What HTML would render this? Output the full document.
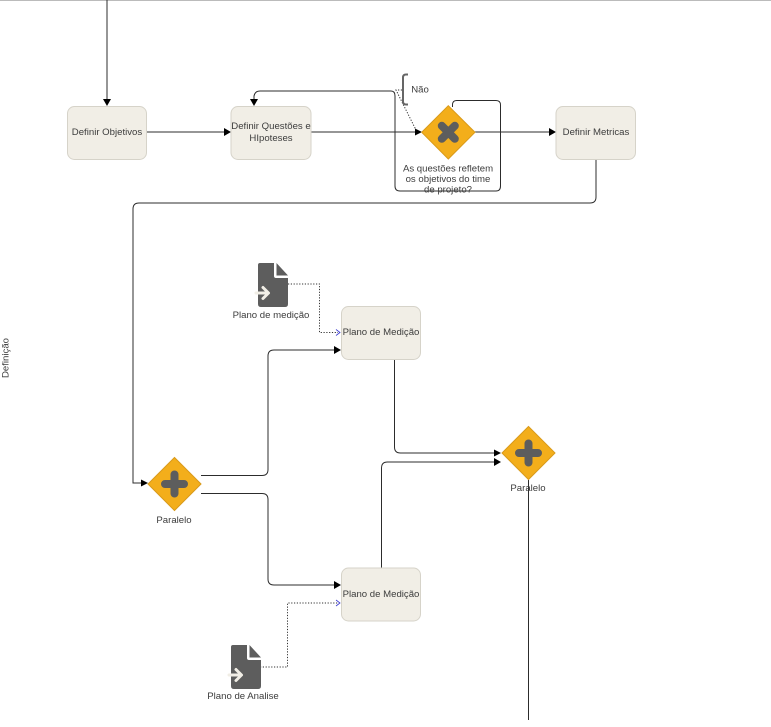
<!DOCTYPE html>
<html>
<head>
<meta charset="utf-8">
<style>
html,body{margin:0;padding:0;background:#fff;width:771px;height:727px;overflow:hidden}
svg{display:block}
text{font-family:"Liberation Sans",sans-serif;font-size:9.6px;fill:#3c3c3c;text-anchor:middle}
.box{fill:#f1eee6;stroke:#d6d3c9;stroke-width:1}
.l{fill:none;stroke:#2c2c2c;stroke-width:1}
.d{fill:none;stroke:#333;stroke-width:1;stroke-dasharray:1.2 1.6}
.gw{fill:#f3ae1b;stroke:#d99a1a;stroke-width:1}
.sym{fill:none;stroke:#5d5d5d;stroke-width:8;stroke-linecap:round}
.ah{fill:#000}
.oa{fill:none;stroke:#3a3ad0;stroke-width:.8}
</style>
</head>
<body>
<svg width="771" height="727" viewBox="0 0 771 727" xmlns="http://www.w3.org/2000/svg">
<line x1="0" y1="0.5" x2="771" y2="0.5" stroke="#bbb"/>
<text transform="translate(8.500,358) rotate(-90)">Definição</text>

<!-- connectors -->
<path class="l" d="M107 0V100"/>
<path class="ah" d="M103 99h8l-4 7z"/>
<path class="l" d="M147 132H225"/>
<path class="ah" d="M224 128v8l7-4z"/>
<path class="l" d="M311 132H416"/>
<path class="ah" d="M415 128.500v7l7-3.500z"/>
<path class="l" d="M475 132H550"/>
<path class="ah" d="M549 128v8l7-4z"/>
<path class="l" d="M452.500 107V105q0-4.500 4-4.500H496q4.500 0 4.500 4.500V186q0 5-4.500 5H400q-5 0-5-5V96q0-5-4-5H260q-5 0-6 5v4"/>
<path class="ah" d="M250 99h8l-4 7z"/>
<path class="l" d="M596 159V197q0 6-6 6H139q-6 0-6 6V483H142"/>
<path class="ah" d="M141 479.500v7l7-3.500z"/>
<path class="l" d="M201 475.500H262q6 0 6-6V356q0-6 6-6H335"/>
<path class="ah" d="M334 346v8l7-4z"/>
<path class="l" d="M201 493.500H262q6 0 6 6V579q0 6 6 6H335"/>
<path class="ah" d="M334 581v8l7-4z"/>
<path class="l" d="M394.500 359V447q0 6 6 6H495"/>
<path class="ah" d="M494 449.500v7l7-3.500z"/>
<path class="l" d="M381.500 568V468q0-6 6-6H495"/>
<path class="ah" d="M494 458v8l7-4z"/>
<path class="l" d="M528.500 480V720"/>

<!-- dotted -->
<path class="d" d="M288 284H319.500V332.500H338"/>
<path class="oa" d="M336 329.500l4 3-4 3"/>
<path class="d" d="M260 667H287.500V603H338"/>
<path class="oa" d="M336 600l4 3-4 3"/>
<path class="d" d="M402 90H396L416 130"/>

<!-- annotation bracket -->
<path fill="none" stroke="#666" stroke-width="2" d="M408 74.500h-2q-3 0-3 3v24q0 3 3 3h2"/>
<text x="420" y="92.500">Não</text>

<!-- tasks -->
<rect class="box" x="67.500" y="106.500" width="79" height="53" rx="7"/>
<text x="107" y="135">Definir Objetivos</text>
<rect class="box" x="231" y="106.500" width="80" height="53" rx="7"/>
<text x="271" y="129">Definir Questões e</text>
<text x="271" y="141">HIpoteses</text>
<rect class="box" x="556" y="106.500" width="79.500" height="53" rx="7"/>
<text x="596" y="135">Definir Metricas</text>
<rect class="box" x="341.500" y="306.500" width="79" height="53" rx="7"/>
<text x="381" y="335">Plano de Medição</text>
<rect class="box" x="341.500" y="568" width="79" height="53" rx="7"/>
<text x="381" y="597">Plano de Medição</text>

<!-- gateways -->
<path class="gw" d="M448.300 105.700L475 132.300L448.300 159L421.700 132.300Z"/>
<path class="sym" d="M441.800 125.800L454.800 138.800M454.800 125.800L441.800 138.800"/>
<path class="gw" d="M174.500 457.500L201 484L174.500 510.500L148 484Z"/>
<path class="sym" d="M174.500 474.500V493.500M165 484H184"/>
<path class="gw" d="M528.500 426.500L555 453L528.500 479.500L502 453Z"/>
<path class="sym" d="M528.500 443.500V462.500M519 453H538"/>

<text x="448" y="171.500">As questões refletem</text>
<text x="448" y="182">os objetivos do time</text>
<text x="448" y="192.500">de projeto?</text>
<text x="174" y="523">Paralelo</text>
<text x="528" y="491">Paralelo</text>

<!-- data objects -->
<path fill="#5d5d5d" d="M260 263H274V276q0 2 2 2H288V304q0 3-3 3H261q-3 0-3-3V265q0-2 2-2Z"/>
<path fill="#5d5d5d" d="M276.500 263L288 275.500H276.500Z"/>
<path fill="none" stroke="#f1eee6" stroke-width="3" stroke-linecap="round" stroke-linejoin="round" d="M256 293H268M263 287.500L268.500 293L263 298.500"/>
<text x="271" y="318">Plano de medição</text>

<path fill="#5d5d5d" d="M233 645H247V658q0 2 2 2H261V686q0 3-3 3H234q-3 0-3-3V647q0-2 2-2Z"/>
<path fill="#5d5d5d" d="M249.500 645L261 657.500H249.500Z"/>
<path fill="none" stroke="#f1eee6" stroke-width="3" stroke-linecap="round" stroke-linejoin="round" d="M229 675H241M236 669.500L241.500 675L236 680.500"/>
<text x="243" y="699">Plano de Analise</text>
</svg>
</body>
</html>
